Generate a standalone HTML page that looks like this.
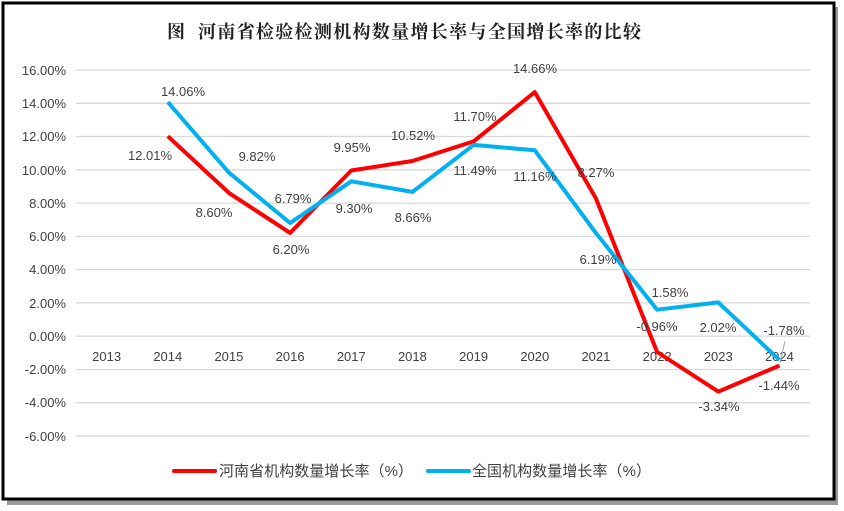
<!DOCTYPE html>
<html><head><meta charset="utf-8"><style>
html,body{margin:0;padding:0;background:#fff;}
svg{display:block;}
text{font-family:"Liberation Sans","Noto Sans CJK SC",sans-serif;}
</style></head><body>
<svg width="844" height="511" viewBox="0 0 844 511" xmlns="http://www.w3.org/2000/svg">
<rect x="0" y="0" width="844" height="511" fill="#fff"/>
<rect x="7" y="7" width="831" height="498" fill="#999"/>
<rect x="3" y="3" width="831" height="496" fill="#fff" stroke="#000" stroke-width="3"/>
<text x="167" y="38" font-size="18" font-weight="bold" fill="#222" textLength="474" lengthAdjust="spacing" style="font-family:'Liberation Serif','Noto Serif CJK SC',serif;white-space:pre" xml:space="preserve">图  河南省检验检测机构数量增长率与全国增长率的比较</text>
<g stroke="#d9d9d9" stroke-width="1.3">
<line x1="76" x2="810" y1="70" y2="70"/><line x1="76" x2="810" y1="103.3" y2="103.3"/>
<line x1="76" x2="810" y1="136.5" y2="136.5"/><line x1="76" x2="810" y1="169.8" y2="169.8"/>
<line x1="76" x2="810" y1="203.1" y2="203.1"/><line x1="76" x2="810" y1="236.4" y2="236.4"/>
<line x1="76" x2="810" y1="269.6" y2="269.6"/><line x1="76" x2="810" y1="302.9" y2="302.9"/>
<line x1="76" x2="810" y1="336.2" y2="336.2"/><line x1="76" x2="810" y1="369.5" y2="369.5"/>
<line x1="76" x2="810" y1="402.7" y2="402.7"/><line x1="76" x2="810" y1="436" y2="436"/>
</g>
<g font-size="13" fill="#404040" text-anchor="end">
<text x="66" y="75">16.00%</text><text x="66" y="108">14.00%</text><text x="66" y="141">12.00%</text>
<text x="66" y="175">10.00%</text><text x="66" y="208">8.00%</text><text x="66" y="241">6.00%</text>
<text x="66" y="274">4.00%</text><text x="66" y="308">2.00%</text><text x="66" y="341">0.00%</text>
<text x="66" y="374">-2.00%</text><text x="66" y="407">-4.00%</text><text x="66" y="441">-6.00%</text>
</g>
<g font-size="13" fill="#404040" text-anchor="middle">
<text x="106.6" y="361">2013</text><text x="167.8" y="361">2014</text><text x="228.9" y="361">2015</text>
<text x="290.1" y="361">2016</text><text x="351.3" y="361">2017</text><text x="412.4" y="361">2018</text>
<text x="473.6" y="361">2019</text><text x="534.8" y="361">2020</text><text x="595.9" y="361">2021</text>
<text x="657.1" y="361">2022</text><text x="718.3" y="361">2023</text><text x="779.4" y="361">2024</text>
</g>
<polyline fill="none" stroke="#ff0000" stroke-width="4" stroke-linejoin="round" points="167.8,136.2 228.9,192.9 290.1,232.9 351.3,170.5 412.4,161 473.6,141.4 534.8,92.1 595.9,198.4 657.1,352 718.3,391.6 779.4,365.6"/>
<polyline fill="none" stroke="#00b0f0" stroke-width="4" stroke-linejoin="round" points="167.8,102.1 228.9,172.6 290.1,223 351.3,181.3 412.4,191.9 473.6,144.9 534.8,150.3 595.9,233 657.1,309.7 718.3,302.4 779.4,360"/>
<line x1="780" y1="363" x2="785" y2="341" stroke="#a6a6a6" stroke-width="1"/>
<g font-size="13" fill="#404040" text-anchor="middle">
<text x="150" y="160">12.01%</text><text x="183" y="96">14.06%</text>
<text x="214" y="217">8.60%</text><text x="257" y="161">9.82%</text>
<text x="291" y="254">6.20%</text><text x="293" y="203">6.79%</text>
<text x="352" y="152">9.95%</text><text x="354" y="213">9.30%</text>
<text x="413" y="140">10.52%</text><text x="413" y="222">8.66%</text>
<text x="475" y="121">11.70%</text><text x="475" y="175">11.49%</text>
<text x="535" y="73">14.66%</text><text x="535" y="181">11.16%</text>
<text x="596" y="177">8.27%</text><text x="598" y="264">6.19%</text>
<text x="657" y="331">-0.96%</text><text x="670" y="297">1.58%</text>
<text x="719" y="411">-3.34%</text><text x="718" y="332">2.02%</text>
<text x="784" y="335">-1.78%</text><text x="779" y="390">-1.44%</text>
</g>
<line x1="174" y1="471" x2="215" y2="471" stroke="#ff0000" stroke-width="4" stroke-linecap="round"/>
<text x="219" y="476" font-size="15" fill="#404040" textLength="194" lengthAdjust="spacing">河南省机构数量增长率（%）</text>
<line x1="428" y1="471" x2="469" y2="471" stroke="#00b0f0" stroke-width="4" stroke-linecap="round"/>
<text x="472" y="476" font-size="15" fill="#404040" textLength="179" lengthAdjust="spacing">全国机构数量增长率（%）</text>
</svg>
</body></html>
